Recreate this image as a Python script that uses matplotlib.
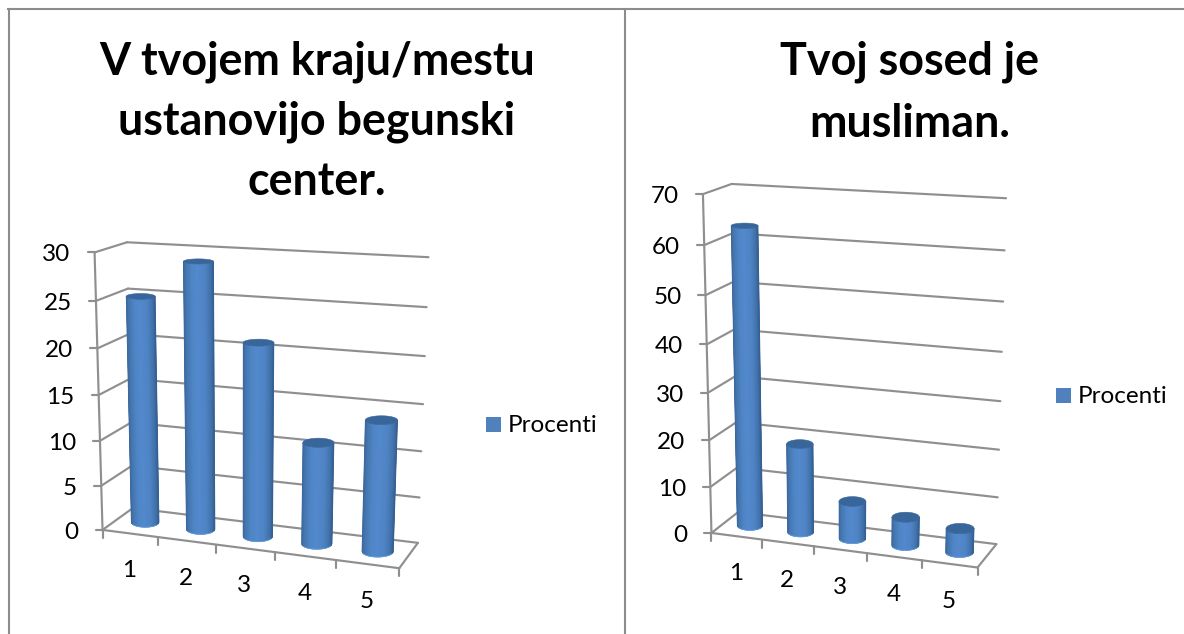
import numpy as np
import matplotlib
matplotlib.use("Agg")
import matplotlib.pyplot as plt
from matplotlib.transforms import Transform, IdentityTransform
from matplotlib.collections import PolyCollection
from matplotlib.patches import Polygon, Rectangle
from matplotlib.lines import Line2D

plt.rcParams['font.family'] = ['Lato', 'DejaVu Sans']

categories = [1, 2, 3, 4, 5]
left_values = [25, 29, 21, 11, 14]
right_values = [63, 19, 8, 6, 5]
left_title = ["V tvojem kraju/mestu", "ustanovijo begunski", "center."]
right_title = ["Tvoj sosed je", "musliman."]
series_name = "Procenti"

W, H = 1184, 634
GRID = "#8f8f8f"
TXT = "#000000"
BLUE = "#4f81bd"


class BoxCamera:
    """Projective camera of a 3-D chart box fitted from its visible corners."""
    def __init__(self, ncat, ymax, corners):
        self.ncat, self.ymax = ncat, ymax
        A = []
        for (u, v, w), (px, py) in corners:
            X = [u, v, w, 1.0]
            A.append(X + [0, 0, 0, 0] + [-px * c for c in X])
            A.append([0, 0, 0, 0] + X + [-py * c for c in X])
        self.P = np.linalg.svd(np.array(A))[2][-1].reshape(3, 4)

    def pixel(self, x, y, depth):
        x, y = np.asarray(x, float), np.asarray(y, float)
        depth = np.broadcast_to(depth, x.shape)
        X = np.stack([(x - 0.5) / self.ncat, y / self.ymax, depth, np.ones_like(x)])
        q = self.P @ X
        return q[0] / q[2], q[1] / q[2]


class DepthTransform(Transform):
    """(category, value) at a fixed box depth -> display coordinates."""
    input_dims = output_dims = 2
    is_separable = False
    has_inverse = False

    def __init__(self, cam, box_depth):
        super().__init__()
        self.cam, self.box_depth = cam, box_depth

    def transform_non_affine(self, values):
        values = np.asarray(values, float)
        px, py = self.cam.pixel(values[:, 0], values[:, 1], self.box_depth)
        return np.column_stack([px, H - py])


STOPS_S = [-1.0, -0.82, -0.45, -0.05, 0.45, 0.82, 1.0]
STOPS_C = np.array([
    [0x3a, 0x66, 0x99], [0x44, 0x75, 0xaf], [0x4e, 0x85, 0xc5],
    [0x53, 0x89, 0xcd], [0x4e, 0x84, 0xc4], [0x42, 0x72, 0xab], [0x33, 0x5e, 0x90]], float) / 255


def shade(s):
    return np.column_stack([np.interp(s, STOPS_S, STOPS_C[:, i]) for i in range(3)])


def cylinder(ax, cam, x, value, radius=0.255, depth=0.5, depth_r=0.23, z=3):
    def ring(v):
        cx, cy = cam.pixel([x], [v], depth)
        lx, _ = cam.pixel([x - radius], [v], depth)
        rx, _ = cam.pixel([x + radius], [v], depth)
        _, fy = cam.pixel([x], [v], depth - depth_r)
        _, by = cam.pixel([x], [v], depth + depth_r)
        return cx[0], cy[0], (rx[0] - lx[0]) / 2, abs(fy[0] - by[0]) / 2
    cb, yb, ab, bb = ring(0)
    ct, yt, at, bt = ring(value)
    edges = np.linspace(-1, 1, 61)
    polys = []
    for s0, s1 in zip(edges[:-1], edges[1:]):
        e0, e1 = np.sqrt(1 - s0 ** 2), np.sqrt(1 - s1 ** 2)
        polys.append([
            (ct + at * s0, H - (yt + bt * e0)), (ct + at * s1, H - (yt + bt * e1)),
            (cb + ab * s1, H - (yb + bb * e1)), (cb + ab * s0, H - (yb + bb * e0))])
    cols = shade((edges[:-1] + edges[1:]) / 2)
    ax.add_collection(PolyCollection(polys, facecolors=cols, edgecolors=cols, linewidths=0.4,
                                     transform=IdentityTransform(), zorder=z, clip_on=False))
    t = np.linspace(0, 2 * np.pi, 80)
    cap = np.column_stack([ct + at * np.cos(t), H - (yt + bt * np.sin(t))])
    ax.add_patch(Polygon(cap, closed=True, fc="#38659a", ec="#38659a", lw=0.4,
                         transform=IdentityTransform(), zorder=z + 0.1, clip_on=False))
    rim = np.linspace(0.15 * np.pi, 0.85 * np.pi, 40)
    ax.add_line(Line2D(cb + ab * np.cos(rim), H - (yb + bb * np.sin(rim)), color="#6ea6e4", lw=0.6,
                       alpha=0.7, transform=IdentityTransform(), zorder=z + 0.2, clip_on=False))


def panel(rect, values, ymax, step, corners, title, title_x, title_ys, legend_xy):
    ax = fig.add_axes(rect)
    ax.set_xlim(0.5, len(values) + 0.5)
    ax.set_ylim(0, ymax)
    ax.set_axis_off()
    cam = BoxCamera(len(values), ymax, corners)
    front, back = DepthTransform(cam, 0.0), DepthTransform(cam, 1.0)
    x0, x1 = 0.5, len(values) + 0.5
    line = dict(color=GRID, lw=1.55, clip_on=False, solid_capstyle='round', zorder=1)

    for v in np.arange(0, ymax + 1, step):
        ax.plot([x0, x1], [v, v], transform=back, **line)
        px, py = cam.pixel([x0, x0], [v, v], np.array([0.0, 1.0]))
        ax.add_line(Line2D(px, H - py, transform=IdentityTransform(), **line))
        tx, ty = cam.pixel([x0], [v], 0.0)
        ax.add_line(Line2D([tx[0] - 7, tx[0]], [H - ty[0], H - ty[0]],
                           transform=IdentityTransform(), **line))
        ax.text(tx[0] - 24, H - ty[0] - 2.5, f"{v:g}", transform=IdentityTransform(), ha='right',
                va='center', fontsize=17.5, color=TXT, clip_on=False)

    ax.plot([x0, x0], [0, ymax], transform=front, **line)
    ax.plot([x0, x1], [0, 0], transform=front, **line)
    px, py = cam.pixel([x1, x1], [0, 0], np.array([0.0, 1.0]))
    ax.add_line(Line2D(px, H - py, transform=IdentityTransform(), **line))

    for e in np.arange(x0, x1 + 0.5):
        tx, ty = cam.pixel([e], [0], 0.0)
        ax.add_line(Line2D([tx[0], tx[0]], [H - ty[0], H - ty[0] - 8],
                           transform=IdentityTransform(), **line))
    for c in categories:
        tx, ty = cam.pixel([c], [0], 0.0)
        ax.text(tx[0] - 1, H - ty[0] - 37.5, str(c), transform=IdentityTransform(), ha='center',
                va='center', fontsize=17.5, color=TXT, clip_on=False)

    for c, v in zip(categories, values):
        cylinder(ax, cam, c, v)

    for s, y in zip(title, title_ys):
        fig.text(title_x / W, 1 - y / H, s, ha='center', va='center', fontsize=32.3,
                 fontweight='bold', color=TXT)

    lx, ly = legend_xy
    fig.add_artist(Rectangle((lx / W, 1 - (ly + 15) / H), 15 / W, 15 / H, fc=BLUE, ec='none',
                             transform=fig.transFigure))
    fig.text((lx + 22) / W, 1 - (ly + 8.5) / H, series_name, ha='left', va='center',
             fontsize=17.5, color=TXT)


fig = plt.figure(figsize=(W / 100, H / 100), dpi=100, facecolor='white')

left_corners = [
    ((0, 0, 0), (104.0, 529.0)), ((0, 1, 0), (93.3, 252.3)),
    ((0, 0, 1), (131.3, 509.0)), ((0, 1, 1), (128.3, 242.3)),
    ((1, 0, 1), (418.3, 541.7)), ((1, 1, 1), (428.3, 257.3)),
    ((1, 0, 0), (399.0, 569.3)),
]
right_corners = [
    ((0, 0, 0), (712.3, 532.3)), ((0, 1, 0), (702.3, 194.0)),
    ((0, 0, 1), (737.3, 512.7)), ((0, 1, 1), (732.3, 184.0)),
    ((1, 0, 1), (996.7, 543.3)), ((1, 1, 1), (1006.0, 198.3)),
    ((1, 0, 0), (977.3, 568.3)),
]

panel([0, 0, 0.5, 1], left_values, 30, 5, left_corners, left_title, 317, [62, 122, 182], (486, 417))
panel([0.5, 0, 0.5, 1], right_values, 70, 10, right_corners, right_title, 910, [62, 124], (1056, 388))

for xs, ys in [((9, 9), (9, 634)), ((625, 625), (9, 634)), ((8, 1184), (9, 9))]:
    fig.add_artist(Line2D([x / W for x in xs], [1 - y / H for y in ys], color="#8c8c8c", lw=1.5,
                          transform=fig.transFigure))

fig.savefig("out.png", dpi=100)
